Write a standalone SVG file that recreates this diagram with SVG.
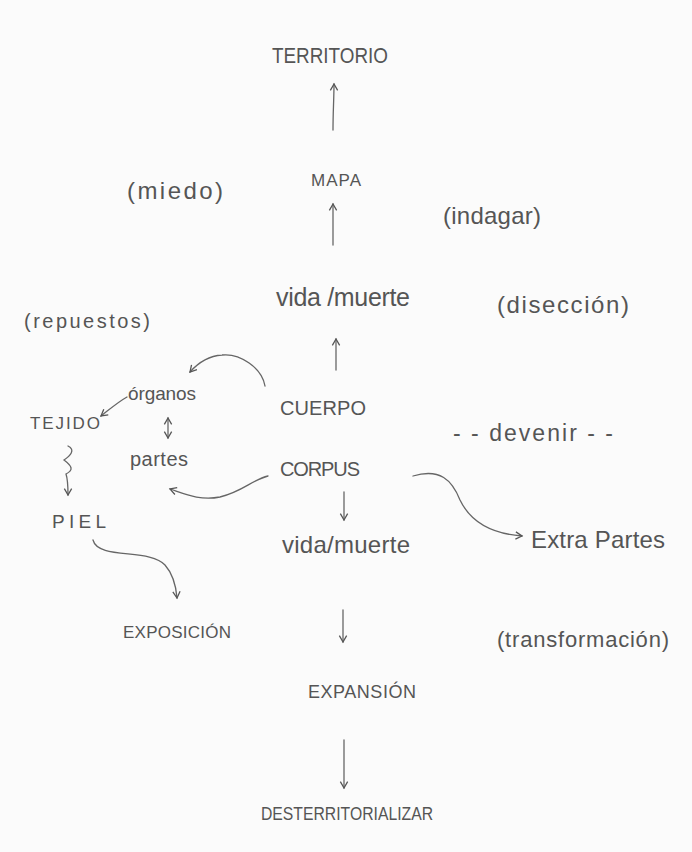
<svg xmlns="http://www.w3.org/2000/svg" width="692" height="852" viewBox="0 0 692 852">
  <defs>
    <marker id="head" viewBox="0 0 10 10" refX="8" refY="5" markerWidth="7" markerHeight="7" orient="auto-start-reverse">
      <path d="M1,1 L8,5 L1,9" fill="none" stroke="#555" stroke-width="1.4"/>
    </marker>
    <style>
      .t { font-family: "Liberation Sans", "DejaVu Sans", sans-serif; fill: #555; }
      .c { fill: none; stroke: #666; stroke-width: 1.3; stroke-linecap: round; }
    </style>
  </defs>
  <rect width="692" height="852" fill="#fbfbfb"/>

  <!-- central chain -->
  <g id="territorio"><text class="t" x="272" y="63" font-size="22" textLength="116" lengthAdjust="spacingAndGlyphs">TERRITORIO</text></g>
  <g id="mapa"><text class="t" x="311" y="186" font-size="17" textLength="50">MAPA</text></g>
  <g id="vida-muerte-1"><text class="t" x="276" y="306" font-size="25" textLength="134">vida /muerte</text></g>
  <g id="cuerpo"><text class="t" x="280" y="415" font-size="20" textLength="86">CUERPO</text></g>
  <g id="corpus"><text class="t" x="280" y="476" font-size="20" textLength="80">CORPUS</text></g>
  <g id="vida-muerte-2"><text class="t" x="282" y="553" font-size="24" textLength="128">vida/muerte</text></g>
  <g id="expansion"><text class="t" x="308" y="698" font-size="18" textLength="108">EXPANSIÓN</text></g>
  <g id="desterritorializar"><text class="t" x="261" y="820" font-size="18" textLength="172" lengthAdjust="spacingAndGlyphs">DESTERRITORIALIZAR</text></g>

  <!-- side notes -->
  <g id="miedo"><text class="t" x="127" y="199" font-size="24" textLength="96">(miedo)</text></g>
  <g id="indagar"><text class="t" x="443" y="224" font-size="24" textLength="98">(indagar)</text></g>
  <g id="diseccion"><text class="t" x="497" y="313" font-size="24" textLength="132">(disección)</text></g>
  <g id="repuestos"><text class="t" x="24" y="328" font-size="20" textLength="126">(repuestos)</text></g>
  <g id="devenir"><text class="t" x="453" y="441" font-size="23" textLength="160">- - devenir - -</text></g>
  <g id="transformacion"><text class="t" x="497" y="647" font-size="22" textLength="172">(transformación)</text></g>

  <!-- left branch -->
  <g id="organos"><text class="t" x="128" y="400" font-size="19" textLength="68">órganos</text></g>
  <g id="tejido"><text class="t" x="30" y="429" font-size="17" textLength="70">TEJIDO</text></g>
  <g id="partes"><text class="t" x="130" y="466" font-size="20" textLength="58">partes</text></g>
  <g id="piel"><text class="t" x="52" y="528" font-size="19" textLength="54">PIEL</text></g>
  <g id="exposicion"><text class="t" x="123" y="638" font-size="17" textLength="108">EXPOSICIÓN</text></g>

  <!-- right branch -->
  <g id="extra-partes"><text class="t" x="531" y="548" font-size="24" textLength="134">Extra Partes</text></g>

  <!-- connectors -->
  <g id="connectors">
    <path class="c" d="M333,130 C333,112 334,98 334,84" marker-end="url(#head)"/>
    <path class="c" d="M333,245 C333,232 333,218 333,204" marker-end="url(#head)"/>
    <path class="c" d="M336,370 C336,360 336,350 336,339" marker-end="url(#head)"/>
    <path class="c" d="M265,386 C262,368 240,353 222,355 C208,356 198,363 190,372" marker-end="url(#head)"/>
    <path class="c" d="M127,397 C118,402 110,409 101,416" marker-end="url(#head)"/>
    <path class="c" d="M168,418 L168,438" marker-start="url(#head)" marker-end="url(#head)"/>
    <path class="c" d="M268,476 C252,480 242,492 220,497 C200,501 185,494 170,489" marker-end="url(#head)"/>
    <path class="c" d="M68,446 C76,450 70,456 64,460 C72,466 74,470 66,474 C68,480 68,486 68,495" marker-end="url(#head)"/>
    <path class="c" d="M344,492 L344,520" marker-end="url(#head)"/>
    <path class="c" d="M413,476 C440,468 452,480 460,500 C472,525 495,534 522,536" marker-end="url(#head)"/>
    <path class="c" d="M93,540 C98,560 150,548 165,565 C173,574 176,586 177,598" marker-end="url(#head)"/>
    <path class="c" d="M343,610 L343,642" marker-end="url(#head)"/>
    <path class="c" d="M344,740 L344,788" marker-end="url(#head)"/>
  </g>
</svg>
